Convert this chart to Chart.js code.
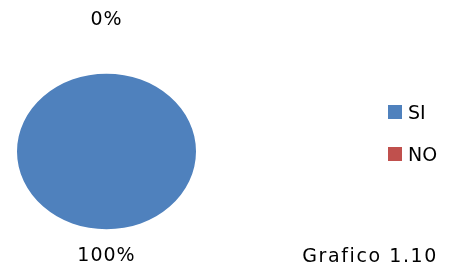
<!DOCTYPE html>
<html>
<head>
<meta charset="utf-8">
<script src="https://cdn.jsdelivr.net/npm/chart.js@4"></script>
<style>
  html, body { margin: 0; padding: 0; background: #fff; }
  #wrap { width: 451px; height: 269px; }
</style>
</head>
<body>
<div id="wrap"><canvas id="chart" width="451" height="269"></canvas></div>
<script>
// Data
const labels = ['SI', 'NO'];
const values = [100, 0];
const colors = ['#4F81BD', '#C0504D'];
const chartTitle = 'Grafico 1.10';

const FONT = '19px "DejaVu Sans"';

// Squash the pie into an ellipse (Excel 3:2 look)
const ellipsePlugin = {
    id: 'ellipse',
    beforeDatasetsDraw(chart, args, opts) {
        const a = chart.chartArea;
        const cy = (a.top + a.bottom) / 2;
        chart.ctx.save();
        chart.ctx.translate(0, cy);
        chart.ctx.scale(1, opts.scaleY);
        chart.ctx.translate(0, -cy);
    },
    afterDatasetsDraw(chart) {
        chart.ctx.restore();
    }
};

// Percent labels, legend and caption
const textPlugin = {
    id: 'texts',
    afterDraw(chart, args, opts) {
        const ctx = chart.ctx;
        const sy = chart.options.plugins.ellipse.scaleY;
        const total = values.reduce((s, v) => s + v, 0);
        ctx.save();
        ctx.font = FONT;
        ctx.fillStyle = '#000';
        ctx.textBaseline = 'alphabetic';

        // data labels outside each slice
        ctx.textAlign = 'center';
        ctx.letterSpacing = '1px';
        chart.getDatasetMeta(0).data.forEach((arc, i) => {
            const p = arc.getProps(['x', 'y', 'startAngle', 'endAngle', 'outerRadius'], true);
            const mid = (p.startAngle + p.endAngle) / 2;
            const gap = opts.gaps[i];
            const x = p.x + Math.cos(mid) * (p.outerRadius + gap);
            const y = p.y + Math.sin(mid) * (p.outerRadius * sy + gap);
            const pct = Math.round(values[i] / total * 100) + '%';
            ctx.fillText(pct, x, y + 7);
        });

        // legend
        ctx.textAlign = 'left';
        ctx.letterSpacing = '0px';
        labels.forEach((lab, i) => {
            const top = opts.legendTop + i * opts.legendStep;
            ctx.fillStyle = colors[i];
            ctx.fillRect(opts.legendX, top, 14, 14);
            ctx.fillStyle = '#000';
            ctx.fillText(lab, opts.legendX + 20, top + 14);
        });

        // caption
        ctx.textAlign = 'right';
        ctx.letterSpacing = '1.6px';
        ctx.fillText(chartTitle, 438, 262);
        ctx.restore();
    }
};

new Chart(document.getElementById('chart'), {
    type: 'pie',
    data: {
        labels: labels,
        datasets: [{
            data: values,
            backgroundColor: colors,
            borderWidth: 0
        }]
    },
    options: {
        responsive: false,
        animation: false,
        layout: { padding: { left: 17, right: 255, top: 62, bottom: 28 } },
        plugins: {
            legend: { display: false },
            tooltip: { enabled: false },
            ellipse: { scaleY: 0.87 },
            texts: { gaps: [25, 56], legendX: 388, legendTop: 105, legendStep: 42 }
        }
    },
    plugins: [ellipsePlugin, textPlugin]
});
</script>
</body>
</html>
